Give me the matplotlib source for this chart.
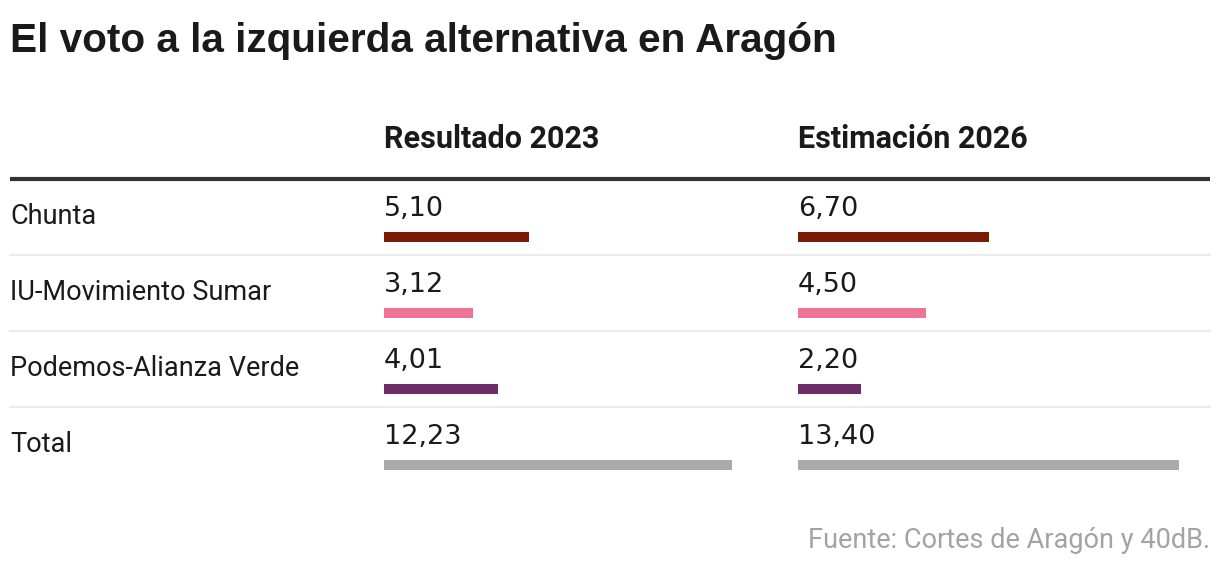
import matplotlib
matplotlib.use('Agg')
import matplotlib.pyplot as plt

# datos
partidos = ['Chunta', 'IU-Movimiento Sumar', 'Podemos-Alianza Verde', 'Total']
res_2023 = [5.10, 3.12, 4.01, 12.23]
est_2026 = [6.70, 4.50, 2.20, 13.40]
columnas = ['Resultado 2023', 'Estimación 2026']
colores = ['#7a1a05', '#ef7494', '#6d2d67', '#aaaaaa']

W, H = 1220, 566
PX_UNIT = 28.45  # pixeles por punto porcentual

def fx(px):
    return px / W

def fy(py):
    return 1 - py / H

fig = plt.figure(figsize=(W / 100, H / 100), dpi=100)
fig.patch.set_facecolor('white')

fuente = ['Roboto', 'DejaVu Sans']
cifras = ['DejaVu Sans']
titulo_fuente = ['Liberation Sans Narrow', 'Liberation Sans', 'DejaVu Sans']

fig.text(fx(10), fy(52), 'El voto a la izquierda alternativa en Aragón',
         fontsize=29.2, fontweight='bold', family=titulo_fuente, color='#1a1a1a',
         va='baseline', ha='left')

# tabla: filas de 76 px entre y=179 y y=483
top, bottom = 179, 483
ax = fig.add_axes([fx(10), fy(bottom), fx(1210) - fx(10), (bottom - top) / H])
ax.set_xlim(0, 1)
ax.set_ylim(len(partidos), 0)
ax.axis('off')
ax.axhline(0, color='#333333', lw=3, solid_capstyle='butt', clip_on=False)
for i in range(1, len(partidos)):
    ax.axhline(i, color='#ebebeb', lw=1.5, clip_on=False)
for i, p in enumerate(partidos):
    ax.text(0, i + 0.59, p, fontsize=19.5, family=fuente, color='#1a1a1a',
            va='baseline', ha='left')

col_x = [384, 798]
for cx, nombre, vals in zip(col_x, columnas, [res_2023, est_2026]):
    fig.text(fx(cx), fy(148), nombre, fontsize=22, fontweight='bold',
             family=fuente, color='#1a1a1a', va='baseline', ha='left')
    axc = fig.add_axes([fx(cx), fy(bottom), fx(1210) - fx(cx), (bottom - top) / H])
    axc.set_xlim(0, (1210 - cx) / PX_UNIT)
    axc.set_ylim(len(partidos), 0)
    axc.axis('off')
    pos = [i + 0.763 for i in range(len(vals))]
    axc.barh(pos, vals, height=0.13, color=colores, left=0)
    for i, v in enumerate(vals):
        axc.text(0, i + 0.487, f'{v:.2f}'.replace('.', ','), fontsize=19.5,
                 family=cifras, color='#1a1a1a', va='baseline', ha='left')

fig.text(fx(1210), fy(548), 'Fuente: Cortes de Aragón y 40dB.', fontsize=19.5,
         family=fuente, color='#a3a3a3', va='baseline', ha='right')

fig.savefig('out.png', dpi=100)
